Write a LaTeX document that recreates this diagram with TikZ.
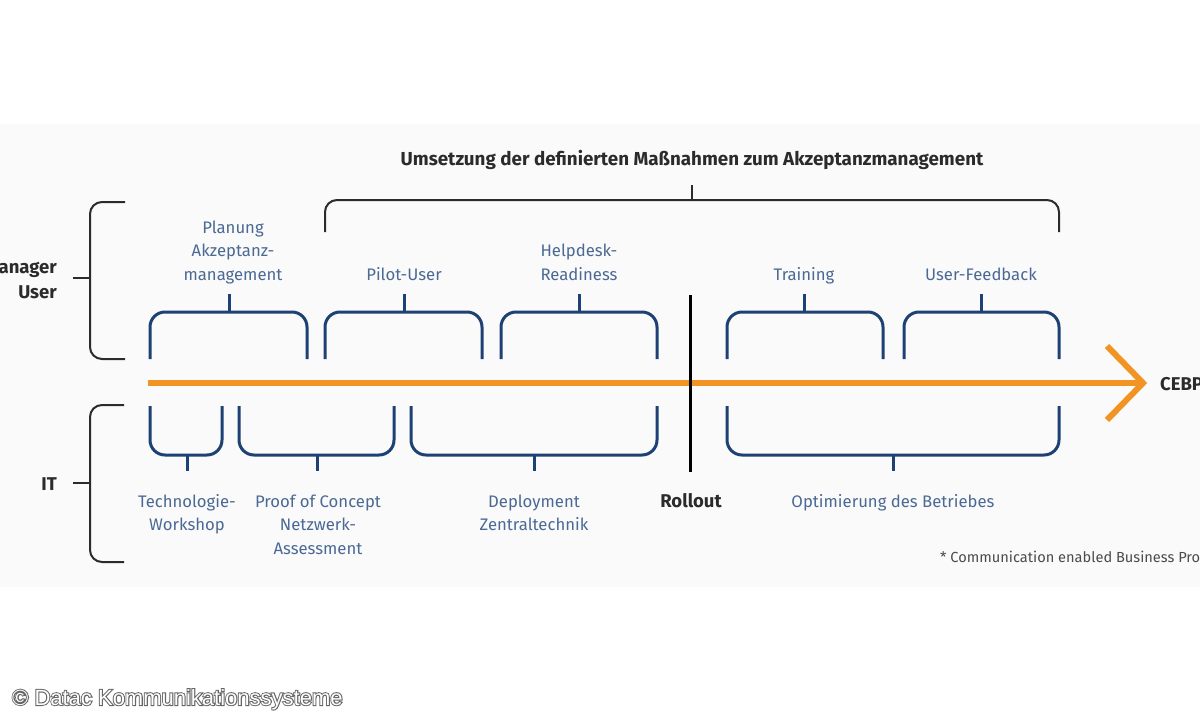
\documentclass[tikz,border=0pt]{standalone}
\usepackage{fontspec}
\setmainfont{Fira Sans}
\newfontfamily\arialfont{Liberation Sans}
\newfontfamily\arialglow[FakeBold=9]{Liberation Sans}
\usepackage{tikz}
\usetikzlibrary{positioning}

\definecolor{navy}{HTML}{1D4174}
\definecolor{bluetext}{HTML}{4A6994}
\definecolor{orangeline}{HTML}{F29423}
\definecolor{darktext}{HTML}{2B2B2B}
\definecolor{panel}{HTML}{FAFAFA}

\tikzset{
  bracket/.style={draw=navy, line width=3pt, rounded corners=15pt},
  brace/.style={draw=darktext, line width=2pt, rounded corners=12pt},
  timeline/.style={draw=orangeline, line width=6pt},
  phase/.style={text=bluetext, font=\fontsize{16.7}{23.5}\selectfont, align=center, inner sep=0pt},
  group/.style={text=darktext, font=\bfseries\fontsize{18.5}{25}\selectfont, inner sep=0pt},
}

\begin{document}
\begin{tikzpicture}[x=1pt,y=-1pt]
\useasboundingbox (0,0) rectangle (1200,720);
% light panel behind the chart
\fill[panel] (0,124) rectangle (1200,587);

% title with its brace
\node[group, font=\bfseries\fontsize{18.8}{22}\selectfont, anchor=base] (umsetzung) at (692,165) {Umsetzung der definierten Maßnahmen zum Akzeptanzmanagement};
\draw[brace] (325,232) -- (325,200) -- (1059,200) -- (1059,232);
\draw[brace] (692,200) -- (692,185);

% side braces
\draw[brace] (125,202) -- (90,202) -- (90,359) -- (125,359);
\draw[brace] (90,278) -- (73,278);
\node[group, anchor=base east, align=right] (manager) at (57,298) {Manager\\User};
\draw[brace] (124,405) -- (90,405) -- (90,562) -- (124,562);
\draw[brace] (90,483) -- (73,483);
\node[group, anchor=base east] (it) at (57,490) {IT};

% timeline arrow
\draw[timeline] (148,383) -- (1141,383);
\draw[timeline, line join=miter] (1107,346) -- (1143,383) -- (1107,420);
\node[group, anchor=base west] (cebp) at (1160,390) {CEBP*};

% rollout marker
\draw[draw=black, line width=3pt] (690,295) -- (690,472);
\node[group, anchor=base] (rollout) at (691,507) {Rollout};

% upper brackets
\foreach \l/\m/\r in {150/229/307, 325/404/482, 501/579/657, 727/804/883, 904/981/1059}{
  \draw[bracket] (\l,359) -- (\l,312) -- (\r,312) -- (\r,359);
  \draw[bracket] (\m,312) -- (\m,294);
}
% lower brackets
\foreach \l/\m/\r in {150/187/222, 239/317/394, 411/534/657, 727/893/1059}{
  \draw[bracket] (\l,406) -- (\l,455) -- (\r,455) -- (\r,406);
  \draw[bracket] (\m,455) -- (\m,471);
}

% labels above (base = last line)
\node[phase, anchor=base] (planung) at (233,280) {Planung\\Akzeptanz-\\management};
\node[phase, anchor=base] (pilot) at (404,280) {Pilot-User};
\node[phase, anchor=base] (helpdesk) at (579,280) {Helpdesk-\\Readiness};
\node[phase, anchor=base] (training) at (804,280) {Training};
\node[phase, anchor=base] (feedback) at (981,280) {User-Feedback};

% labels below
\node[phase, anchor=base] (workshop) at (187,530.5) {Technologie-\\Workshop};
\node[phase, anchor=base] (poc) at (318,554) {Proof of Concept\\Netzwerk-\\Assessment};
\node[phase, anchor=base] (deploy) at (534,530.5) {Deployment\\Zentraltechnik};
\node[phase, anchor=base] (betrieb) at (893,507) {Optimierung des Betriebes};

% footnote and credit (gray halo under white text)
\node[text=darktext!85, font=\fontsize{14.6}{17}\selectfont, anchor=base west, inner sep=0pt] (note) at (940,562) {* Communication enabled Business Processes};
\node[text=black!60, font=\arialglow\fontsize{22}{25}\selectfont, anchor=base west, inner sep=0pt] (halo) at (12,705) {© Datac Kommunikationssysteme};
\node[text=white, font=\arialfont\fontsize{22}{25}\selectfont, anchor=base west, inner sep=0pt] (credit) at (12,705) {© Datac Kommunikationssysteme};
\end{tikzpicture}
\end{document}
